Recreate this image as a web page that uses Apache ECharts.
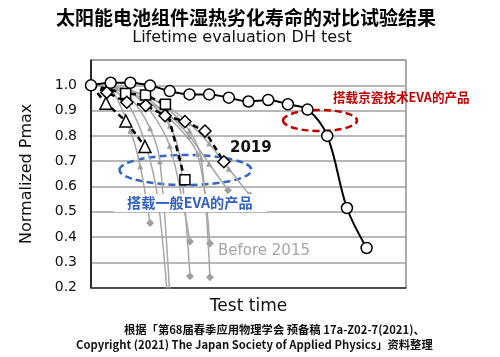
<!DOCTYPE html>
<html><head><meta charset="utf-8">
<script src="https://cdn.jsdelivr.net/npm/echarts@6/dist/echarts.min.js"></script>
<style>html,body{margin:0;padding:0;background:#fff}#c{width:500px;height:357px}</style>
</head><body><div id="c"></div>
<script>
// Kyocera EVA module (solid line, open circles); x = test-time steps
const kyoceraX = [0,1,2,3,4,5,6,7,8,9,10,11,12,13,14];
const kyoceraY = [1.0,1.01,1.01,0.999,0.977,0.964,0.964,0.951,0.936,0.942,0.925,0.904,0.80,0.515,0.357];
// 2019 general EVA modules (dashed)
const triX = [0,0.76,1.77,2.74];
const triY = [1.0,0.929,0.859,0.758];
const sqX = [0,1.76,2.77,3.78,4.77];
const sqY = [1.0,0.968,0.962,0.925,0.627];
const diaX = [0,0.80,1.82,2.78,3.76,4.77,5.79,6.75];
const diaY = [1.0,0.972,0.933,0.920,0.880,0.857,0.819,0.698];
// Before 2015 modules (grey)
const before2015_1 = [[0,1],[1,0.985],[2,0.82],[2.5,0.68],[3.0,0.456]];
const before2015_2 = [[0,1],[1,0.99],[2,0.95],[3,0.83],[3.5,0.70],[4.05,0.1]];
const before2015_3 = [[0,1],[1,0.99],[2,0.91],[2.8,0.76],[3.4,0.55],[3.95,0.1]];
const before2015_4 = [[0,1],[1,0.99],[2,0.97],[3,0.9],[4,0.76],[5.03,0.383]];
const before2015_5 = [[0,1],[1,0.995],[2,0.97],[3,0.93],[4,0.84],[4.5,0.72],[5.03,0.245]];
const before2015_6 = [[0,1],[1,0.995],[2,0.98],[3,0.94],[4,0.87],[5.4,0.73],[6.04,0.375]];
const before2015_7 = [[0,1],[1,0.995],[2,0.98],[3,0.95],[4,0.9],[5,0.82],[5.6,0.71],[6.04,0.241]];
const before2015_8 = [[0,1],[1,0.99],[2,0.97],[3,0.93],[4,0.88],[5,0.8],[6,0.69],[6.96,0.585]];
const before2015_9 = [[0,1],[1,0.995],[2,0.98],[3,0.95],[4,0.91],[5,0.85],[6,0.77],[7,0.67],[8.07,0.565]];
const yMin = 0.2, yMax = 1.1, yStep = 0.1;

const zip = (xs, ys) => xs.map((x, i) => [x, ys[i]]);
const grayLines = [before2015_1,before2015_2,before2015_3,before2015_4,before2015_5,before2015_6,before2015_7,before2015_8,before2015_9];

const series = [];
grayLines.forEach((d, k) => {
  series.push({
    type: 'line', data: d, smooth: 0.3, z: 2,
    lineStyle: { color: '#a6a6a6', width: 1.5 },
    itemStyle: { color: '#a0a0a0' },
    symbol: (v, p) => {
      if (p.dataIndex === 0) return 'none';
      if (p.dataIndex === d.length - 1) return v[1] > yMin ? 'diamond' : 'none';
      return (v[1] < 0.9 && v[1] > 0.6) ? 'triangle' : 'none';
    },
    symbolSize: (v, p) => p.dataIndex === d.length - 1 ? 8 : 6,
    silent: true, animation: false
  });
});
function dashed(xs, ys, sym, size) {
  return {
    type: 'line', data: zip(xs, ys), z: 3,
    lineStyle: { color: '#000', width: 2.5, type: [6, 4] },
    itemStyle: { color: '#fff', borderColor: '#000', borderWidth: 1.5 },
    symbol: (v, p) => p.dataIndex === 0 ? 'none' : sym,
    symbolSize: size, animation: false
  };
}
series.push(dashed(triX, triY, 'triangle', 12));
series.push(dashed(sqX, sqY, 'rect', 10));
series.push(dashed(diaX, diaY, 'diamond', 12));
series.push({
  type: 'line', data: zip(kyoceraX, kyoceraY), smooth: 0.35, z: 4,
  lineStyle: { color: '#000', width: 2 },
  itemStyle: { color: '#fff', borderColor: '#000', borderWidth: 1.5 },
  symbol: 'circle', symbolSize: 11, animation: false
});

const chart = echarts.init(document.getElementById('c'));
chart.setOption({
  animation: false,
  backgroundColor: '#fff',
  grid: { left: 91, right: 94, top: 60, bottom: 69.3, show: true, borderColor: '#555', borderWidth: 1 },
  xAxis: {
    type: 'value', min: 0, max: 16,
    name: 'Test time', nameLocation: 'middle', nameGap: 10,
    nameTextStyle: { fontFamily: 'DejaVu Sans', fontSize: 17, color: '#111', verticalAlign: 'top' },
    axisLine: { show: true, lineStyle: { color: '#333', width: 1.5 } },
    axisTick: { show: false }, axisLabel: { show: false }, splitLine: { show: false }
  },
  yAxis: {
    type: 'value', min: yMin, max: yMax, interval: yStep,
    name: 'Normalized Pmax', nameLocation: 'middle', nameGap: 56,
    nameTextStyle: { fontFamily: 'DejaVu Sans', fontSize: 16, color: '#111' },
    axisLine: { show: true, lineStyle: { color: '#000', width: 1.5 } },
    axisTick: { show: false },
    axisLabel: { margin: 14, fontFamily: 'DejaVu Sans', fontSize: 14, color: '#111',
      formatter: v => v > 1.05 ? '' : v.toFixed(1) },
    splitLine: { show: true, lineStyle: { color: '#a0a0a0', width: 1.5 } }
  },
  series: series,
  graphic: [
    { type: 'text', z: 100, style: { text: '太阳能电池组件湿热劣化寿命的对比试验结果', x: 246, y: 18, align: 'center', verticalAlign: 'middle',
      font: 'bold 19px "Noto Sans CJK SC"', fill: '#000' } },
    { type: 'text', z: 100, style: { text: 'Lifetime evaluation DH test', x: 242, y: 38, align: 'center', verticalAlign: 'middle',
      font: '16px "DejaVu Sans"', fill: '#111' } },
    { type: 'ellipse', z: 1, shape: { cx: 320, cy: 120.5, rx: 37, ry: 10.5 },
      style: { fill: 'none', stroke: '#c00000', lineWidth: 2.5, lineDash: [7, 4] } },
    { type: 'ellipse', z: 1, shape: { cx: 185.5, cy: 170, rx: 66, ry: 15 },
      style: { fill: 'none', stroke: '#3366c4', lineWidth: 2.5, lineDash: [7, 4] } },
    { type: 'text', z: 100, style: { text: '搭载京瓷技术EVA的产品', x: 333, y: 97.5, align: 'left', verticalAlign: 'middle',
      font: 'bold 12.6px "Noto Sans CJK SC"', fill: '#c00000' } },
    { type: 'rect', z: 99, shape: { x: 114, y: 194, width: 153, height: 18 }, style: { fill: '#fff' } },
    { type: 'text', z: 100, style: { text: '搭载一般EVA的产品', x: 127, y: 203, align: 'left', verticalAlign: 'middle',
      font: 'bold 14.2px "Noto Sans CJK SC"', fill: '#3060c0' } },
    { type: 'text', z: 100, style: { text: '2019', x: 230, y: 148, align: 'left', verticalAlign: 'middle',
      font: 'bold 15px "DejaVu Sans"', fill: '#111' } },
    { type: 'text', z: 100, style: { text: 'Before 2015', x: 218, y: 251.5, align: 'left', verticalAlign: 'middle',
      font: '15px "DejaVu Sans"', fill: '#a6a6a6' } },
    { type: 'text', z: 100, style: { text: '根据「第68届春季应用物理学会 预备稿 17a-Z02-7(2021)、', x: 124, y: 330, align: 'left', verticalAlign: 'middle',
      font: 'bold 11.3px "Noto Sans CJK SC"', fill: '#111' } },
    { type: 'text', z: 100, style: { text: 'Copyright (2021) The Japan Society of Applied Physics」资料整理', x: 76, y: 345, align: 'left', verticalAlign: 'middle',
      font: 'bold 11.3px "Noto Sans CJK SC"', fill: '#111' } }
  ]
});
</script></body></html>
